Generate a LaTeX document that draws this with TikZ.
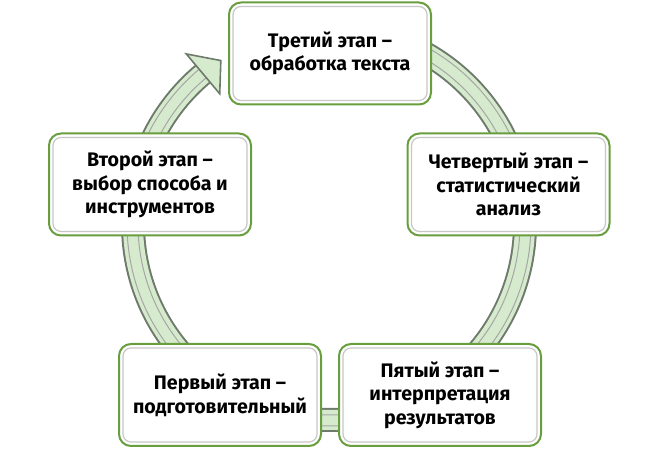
\documentclass[tikz,border=0pt]{standalone}
\usepackage{fontspec}
\setmainfont{Fira Sans}
\usepackage{tikz}
\usetikzlibrary{arrows,positioning}
\definecolor{boxgreen}{RGB}{104,158,62}
\definecolor{ringfill}{RGB}{214,235,205}
\definecolor{ringedge}{RGB}{110,122,108}
\tikzset{
    %Define style for boxes
    stage/.style={
           rectangle,
           rounded corners=6pt,
           draw=boxgreen, line width=1pt,
           fill=white,
           minimum width=101pt,
           minimum height=51pt,
           align=center,
           font=\bfseries\fontsize{9.8}{11.8}\selectfont,
           text centered,
           },
    % inner bevel line of the boxes
    bevel/.style={
           draw=black!22, line width=0.6pt,
           rounded corners=4pt,
           },
    % Define ring style
    ringbase/.style={draw=ringedge, line width=12pt},
    ringbody/.style={draw=ringfill, line width=10pt},
    ringline/.style={draw=black!35, line width=0.5pt},
}
\begin{document}
\begin{tikzpicture}[x=0.5pt,y=0.5pt]
\useasboundingbox (0,0) rectangle (660,449);
\coordinate (c) at (329,225);

 %ring
\draw[ringbase] ([shift={(-230:98pt)}]c) arc[start angle=-230, end angle=90, radius=98pt];
\draw[ringbody] ([shift={(-230:98pt)}]c) arc[start angle=-230, end angle=90, radius=98pt];
\draw[ringline] ([shift={(-230:101pt)}]c) arc[start angle=-230, end angle=90, radius=101pt];
\draw[ringline] ([shift={(-230:95.5pt)}]c) arc[start angle=-230, end angle=90, radius=95.5pt];
\coordinate (ho) at ([shift={(130:111pt)}]c);
\coordinate (hi) at ([shift={(130:85pt)}]c);
\coordinate (ht) at ([shift={(123.5:98pt)}]c);
\draw[ringedge, fill=ringfill, line width=0.8pt, line join=miter] (ho) -- (ht) -- (hi) -- cycle;

 %nodes
\node[stage](3) at (330,395.5){Третий этап –\\обработка текста};
\node[stage](2) at (150,264.5){Второй этап –\\выбор способа и\\инструментов};
\node[stage](4) at (508.5,264.5){Четвертый этап –\\статистический\\анализ};
\node[stage](1) at (220,54){Первый этап –\\подготовительный};
\node[stage](5) at (440,54){Пятый этап –\\интерпретация\\результатов};
\foreach \n in {1,...,5}
    \draw[bevel] ([shift={(2.5pt,2.5pt)}]\n.south west) rectangle ([shift={(-2.5pt,-2.5pt)}]\n.north east);

\end{tikzpicture}
\end{document}
